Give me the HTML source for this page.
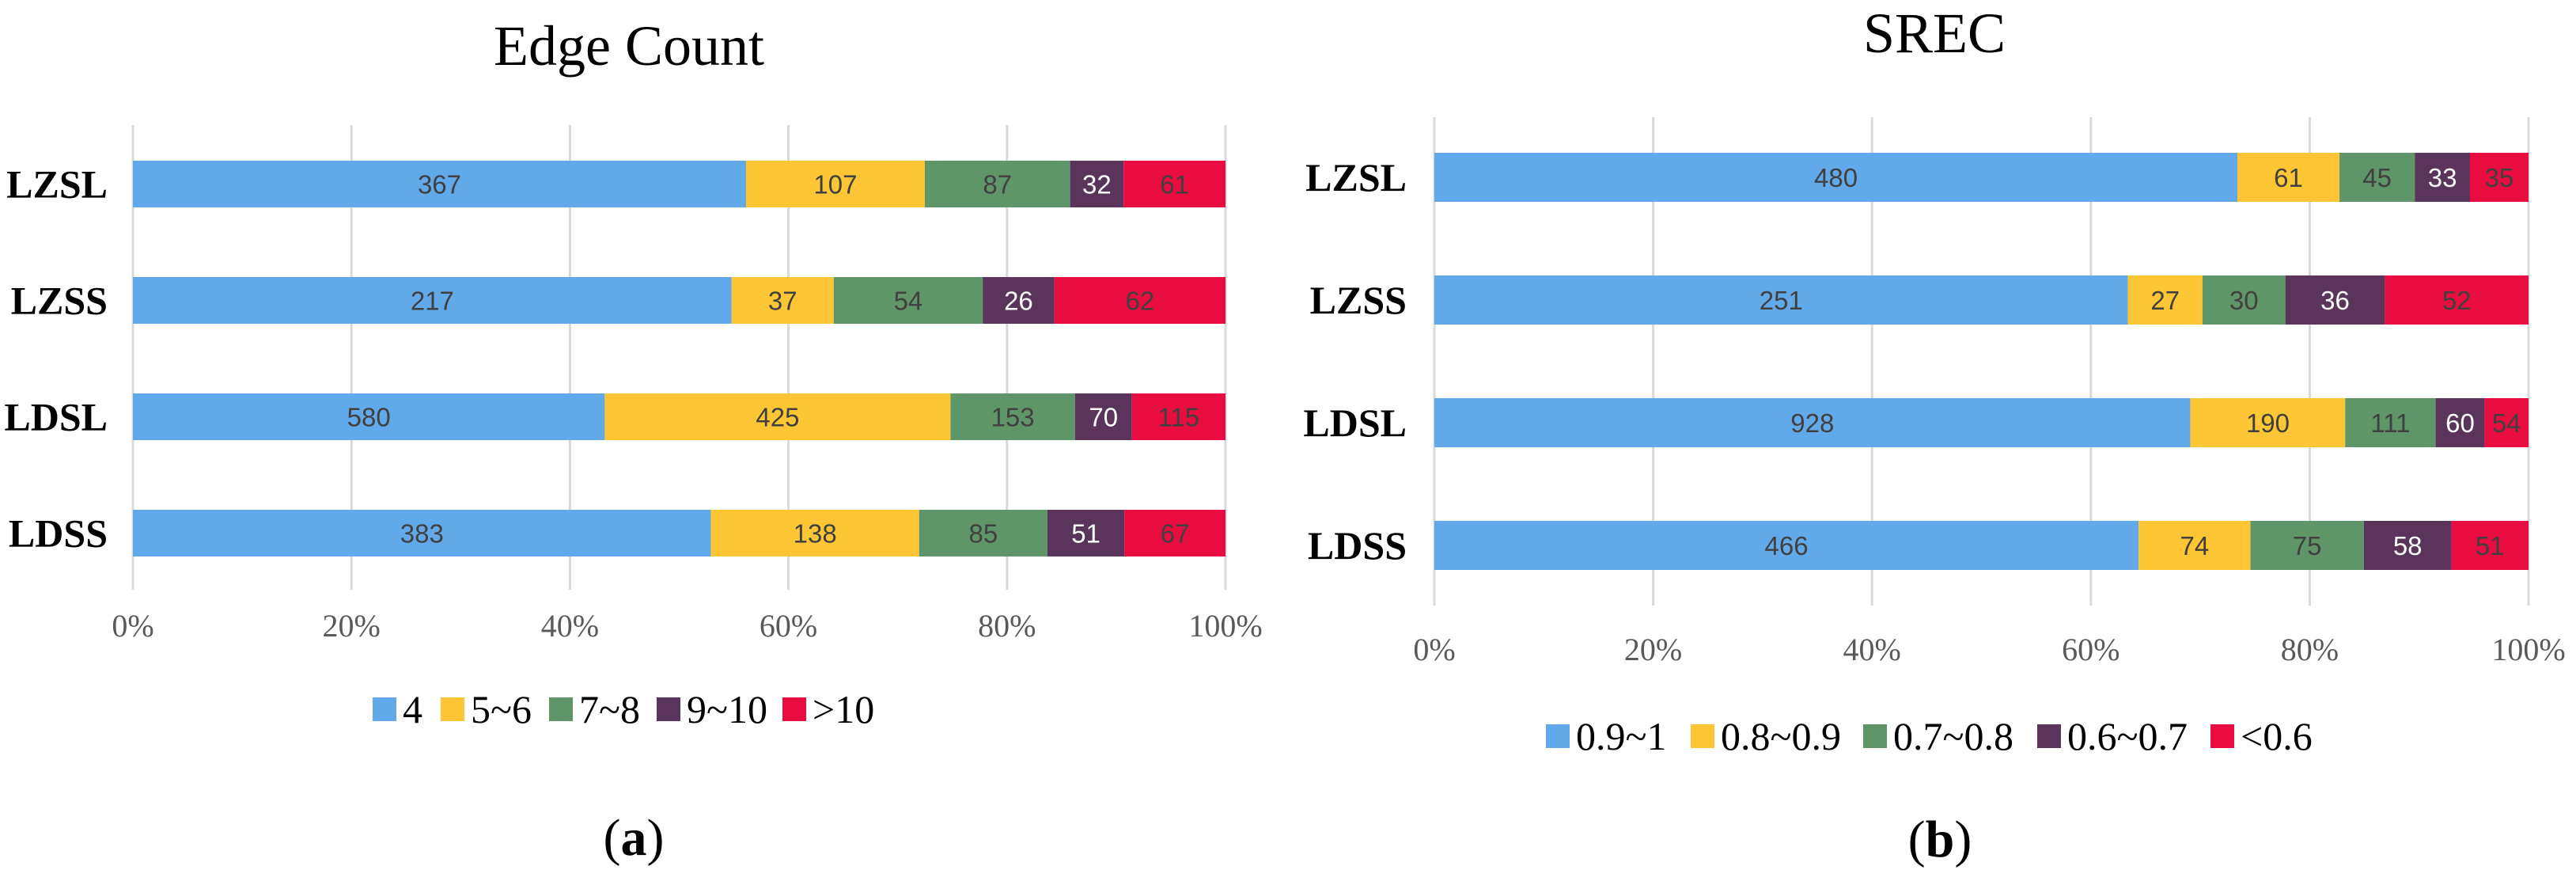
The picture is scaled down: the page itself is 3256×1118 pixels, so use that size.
<!DOCTYPE html>
<html><head><meta charset="utf-8"><style>
html,body{margin:0;padding:0;background:#fff;}
svg{display:block;}
</style></head><body>
<svg id="fig" width="3256" height="1118" viewBox="0 0 3256 1118" xmlns="http://www.w3.org/2000/svg">
<text x="795" y="82" font-family="Liberation Serif, serif" font-size="72" text-anchor="middle" fill="#000">Edge Count</text>
<text x="2445" y="66" font-family="Liberation Serif, serif" font-size="72" text-anchor="middle" fill="#000">SREC</text>
<text x="801" y="1080" font-family="Liberation Serif, serif" font-size="66" text-anchor="middle" fill="#000">(<tspan font-weight="bold">a</tspan>)</text>
<text x="2452" y="1082" font-family="Liberation Serif, serif" font-size="66" text-anchor="middle" fill="#000">(<tspan font-weight="bold">b</tspan>)</text>
<g id="ca"></g><g id="cb"></g>
</svg>
<script>
const categories = ["LZSL","LZSS","LDSL","LDSS"];
const tickLabels = ["0%","20%","40%","60%","80%","100%"];
const tickValues = [0,0.2,0.4,0.6,0.8,1];
const colors = ["#62A9EA","#FEC534","#5E9669","#5B345C","#E90C41"];
const legendA = ["4","5~6","7~8","9~10",">10"];
const legendB = ["0.9~1","0.8~0.9","0.7~0.8","0.6~0.7","<0.6"];
// series per category (rows = categories)
const edge4 = [367,217,580,383];
const edge56 = [107,37,425,138];
const edge78 = [87,54,153,85];
const edge910 = [32,26,70,51];
const edgeGt10 = [61,62,115,67];
const srec1 = [480,251,928,466];
const srec09 = [61,27,190,74];
const srec08 = [45,30,111,75];
const srec07 = [33,36,60,58];
const srecLt6 = [35,52,54,51];

const NS="http://www.w3.org/2000/svg";
function mk(tag,attrs,parent){const e=document.createElementNS(NS,tag);for(const k in attrs)e.setAttribute(k,attrs[k]);parent.appendChild(e);return e;}

function drawChart(g,prefix,series,legend,L){
  const x=v=>L.x0+v*(L.x1-L.x0);
  const y=i=>L.barTop+i*L.step;
  tickValues.forEach((t,i)=>{
    const ln=mk('line',{x1:x(t),x2:x(t),y1:L.gTop,y2:L.gBot,stroke:'#d9d9d9','stroke-width':3},g);
    
    
    const tx=mk('text',{x:x(t),y:L.tickY,'font-family':'Liberation Serif, serif','font-size':40,'text-anchor':'middle',fill:'#595959'},g);
    tx.textContent=tickLabels[i];
    
    
  });
  categories.forEach((c,ci)=>{
    const tot=series.reduce((s,a)=>s+a[ci],0);
    let cum=0;
    const lb=mk('text',{x:L.labelX,y:y(ci)+L.bh/2+17,'font-family':'Liberation Serif, serif','font-size':50,'font-weight':'bold','text-anchor':'end',fill:'#000'},g);
    lb.textContent=c;
    
    
    series.forEach((s,si)=>{
      const a=cum/tot, b=(cum+s[ci])/tot; cum+=s[ci];
      const r=mk('rect',{x:x(a),y:y(ci),width:x(b)-x(a),height:L.bh,fill:colors[si]},g);
      
      
      const t=mk('text',{x:(x(a)+x(b))/2,y:y(ci)+L.bh/2+12,'font-family':'Liberation Sans, sans-serif','font-size':33,'text-anchor':'middle',fill:si===3?'#fff':'#404040'},g);
      t.textContent=s[ci];
      
      
    });
  });
  legend.forEach((name,i)=>{
    const lx=L.legX[i];
    const sq=mk('rect',{x:lx,y:L.legY-15,width:30,height:30,fill:colors[i]},g);
    
    
    const t=mk('text',{x:lx+38,y:L.legY+17,'font-family':'Liberation Serif, serif','font-size':50,fill:'#000'},g);
    t.textContent=name;
    
    
  });
}
drawChart(document.getElementById('ca'),'chart-a',[edge4,edge56,edge78,edge910,edgeGt10],legendA,
 {x0:168,x1:1549,barTop:203,step:147,bh:59,gTop:158,gBot:745,tickY:804,labelX:136,legY:896,legX:[471,557,694,830,989]});
drawChart(document.getElementById('cb'),'chart-b',[srec1,srec09,srec08,srec07,srecLt6],legendB,
 {x0:1813,x1:3196,barTop:193,step:155,bh:62,gTop:148,gBot:765,tickY:834,labelX:1778,legY:930,legX:[1954,2137,2355,2575,2794]});
</script>
</body></html>
